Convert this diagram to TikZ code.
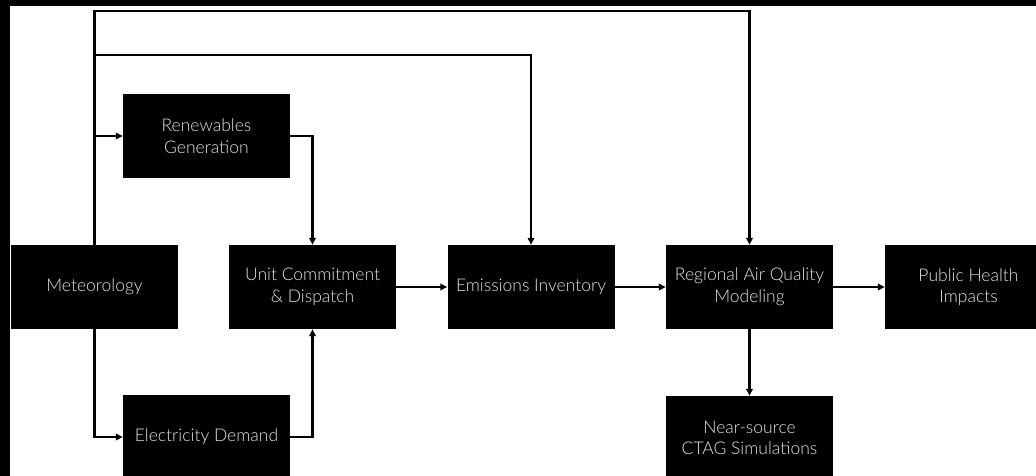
\documentclass[tikz,border=0pt]{standalone}
\usepackage{fontspec}
\setmainfont{Lato}[UprightFont=* Light]
\usetikzlibrary{arrows.meta}
\begin{document}
\begin{tikzpicture}[x=1pt,y=-1pt,
 box/.style={fill=black, draw=none, minimum width=167pt, minimum height=84pt, text=white!90!black,
   font=\fontsize{17.5}{21.5}\selectfont, align=center, inner sep=0pt},
 conn/.style={line width=2.2pt, -{Triangle[length=7pt,width=6.5pt]}},
 plain/.style={line width=2.2pt}]
\useasboundingbox (0,0) rectangle (1036,476);
\clip (0,0) rectangle (1036,476);
\fill[black] (0,0) rectangle (1036,6);
\fill[black] (0,0) rectangle (10,476);
\node[box] (met) at (94.5,287) {Meteorology};
\node[box] (ren) at (206.5,136) {Renewables\\Generation};
\node[box] (ed)  at (206.5,437) {Electricity Demand};
\node[box] (uc)  at (312.5,287) {Unit Commitment\\\& Dispatch};
\node[box] (em)  at (531,287) {Emissions Inventory};
\node[box] (raq) at (749.5,287) {Regional Air Quality\\Modeling};
\node[box] (ph)  at (968.5,287) {Public Health\\Impacts};
\node[box] (ns)  at (749.5,438) {Near-source\\CTAG Simulations};
\coordinate (top1) at (94.5,11);
\coordinate (top2) at (94.5,55);
\draw[conn] (met.north) -- (top1) -| (raq.north);
\draw[conn] (top2) -| (em.north);
\draw[conn] (met.north) |- (ren.west);
\draw[conn] (met.south) |- (ed.west);
\draw[conn] (ren.east) -| (uc.north);
\draw[conn] (ed.east) -| (uc.south);
\draw[conn] (uc) -- (em);
\draw[conn] (em) -- (raq);
\draw[conn] (raq) -- (ph);
\draw[conn] (raq) -- (ns);
\end{tikzpicture}
\end{document}
